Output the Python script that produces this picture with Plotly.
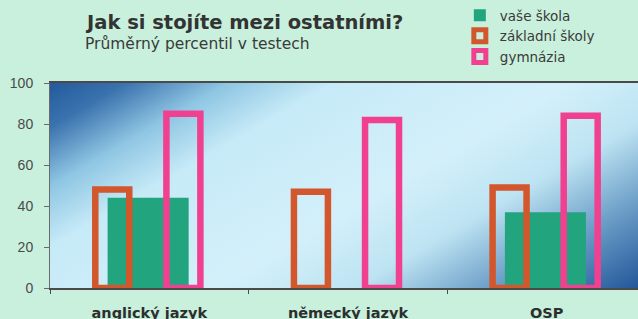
import base64
import plotly.graph_objects as go

categories = ["anglický jazyk", "německý jazyk", "OSP"]
vase_skola = [44, None, 37]
zakladni_skoly = [48, 47, 49]
gymnazia = [85, 82, 84]
y_ticks = [0, 20, 40, 60, 80, 100]

GREEN = "#22a47f"
ORANGE = "#d2572c"
PINK = "#f0408f"
PAGE = "#c8f0dc"

svg = (
    '<svg xmlns="http://www.w3.org/2000/svg" width="588" height="205" '
    'viewBox="0 0 588 205" preserveAspectRatio="none"><defs>'
    '<linearGradient id="g" x1="0" y1="0" x2="1.176" y2="0.706">'
    '<stop offset="0" stop-color="#245a9c"/>'
    '<stop offset="0.08" stop-color="#3a72ae"/>'
    '<stop offset="0.19" stop-color="#8fc6e3"/>'
    '<stop offset="0.30" stop-color="#c6eaf7"/>'
    '<stop offset="0.55" stop-color="#d3f0fa"/>'
    '<stop offset="0.70" stop-color="#bde3f2"/>'
    '<stop offset="0.84" stop-color="#6d9fc8"/>'
    '<stop offset="1" stop-color="#23579a"/>'
    '</linearGradient></defs>'
    '<rect width="588" height="205" fill="url(#g)"/></svg>'
)
src = "data:image/svg+xml;base64," + base64.b64encode(svg.encode()).decode()

fig = go.Figure()
fig.add_trace(go.Bar(
    x=categories, y=vase_skola, name="vaše škola",
    marker=dict(color=GREEN, line=dict(width=0)),
    width=0.408, offset=-0.21,
))
fig.add_trace(go.Bar(
    x=categories, y=zakladni_skoly, name="základní školy",
    marker=dict(color="rgba(0,0,0,0)", line=dict(color=ORANGE, width=6.5)),
    width=0.171, offset=-0.272,
))
fig.add_trace(go.Bar(
    x=categories, y=gymnazia, name="gymnázia",
    marker=dict(color="rgba(0,0,0,0)", line=dict(color=PINK, width=6.5)),
    width=0.171, offset=0.086,
))

fig.update_layout(
    width=638, height=319,
    margin=dict(l=50, r=0, t=83, b=31, autoexpand=False),
    paper_bgcolor=PAGE,
    plot_bgcolor="rgba(0,0,0,0)",
    barmode="overlay",
    showlegend=True,
    legend=dict(
        x=0.697, xref="paper", xanchor="left",
        y=1.0, yref="container", yanchor="top",
        bgcolor="rgba(0,0,0,0)",
        font=dict(family="DejaVu Sans", size=13.5, color="#3a3a3a"),
        tracegroupgap=0,
    ),
    images=[dict(
        source=src, xref="paper", yref="paper", x=0, y=1,
        sizex=1, sizey=1, xanchor="left", yanchor="top",
        sizing="stretch", layer="below",
    )],
    xaxis=dict(
        type="category", range=[-0.5, 2.46],
        showline=True, linecolor="#4a4a4a", linewidth=1.5, mirror=True,
        ticks="outside", tickson="boundaries", ticklen=4, tickcolor="#4a4a4a",
        tickfont=dict(family="DejaVu Sans", size=14.5, color="#2e2e2e", weight="bold"),
        ticklabelstandoff=11,
        showgrid=False, zeroline=False,
    ),
    yaxis=dict(
        range=[0, 100], tickvals=y_ticks,
        showline=True, linecolor="#6a6a6a", linewidth=1,
        ticks="outside", ticklen=5, tickcolor="#6a6a6a",
        tickfont=dict(family="Liberation Sans, Arial", size=14, color="#4a4a4a"),
        ticklabelstandoff=8,
        showgrid=False, zeroline=False,
    ),
    annotations=[
        dict(text="<b>Jak si stojíte mezi ostatními?</b>", xref="paper", yref="paper",
             x=(83 - 50) / 588, y=(288 - 23) / 205, xanchor="left", yanchor="middle",
             showarrow=False, font=dict(family="DejaVu Sans", size=19.5, color="#333333")),
        dict(text="Průměrný percentil v testech", xref="paper", yref="paper",
             x=(83 - 50) / 588, y=(288 - 44) / 205, xanchor="left", yanchor="middle",
             showarrow=False, font=dict(family="DejaVu Sans", size=15.5, color="#3a3a3a")),
    ],
)

fig.write_html(
    "out.html",
    config={"displayModeBar": False},
    post_script="document.body.style.margin='0';document.body.style.padding='0';",
)
